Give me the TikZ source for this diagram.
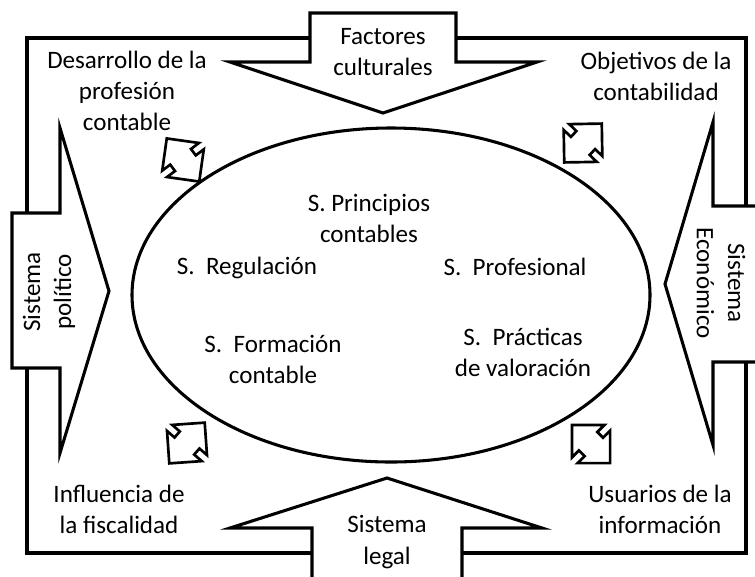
\documentclass[tikz,border=0pt]{standalone}
\usepackage{fontspec}
\setmainfont{Carlito}
\usepackage{tikz}

\begin{document}
\begin{tikzpicture}[x=0.75pt, y=-0.75pt,
		trazo/.style={line width=2.3pt},
		flecha/.style={trazo, fill=white, line join=miter},
		texto/.style={align=center, inner sep=0pt, font=\fontsize{18.8}{23.3}\selectfont}]
			\useasboundingbox (0,0) rectangle (755,576);
			\clip (0,0) rectangle (755,576);

			% marco y elipse
			\draw[trazo] (27,38) rectangle (746,553);
			\draw[trazo] (391,295) ellipse [x radius=259, y radius=167];

			% flechas grandes
			\draw[flecha] (310,13) -- (456,13) -- (456,62) -- (537,62) -- (383,113) -- (230,62) -- (310,62) -- cycle;
			\draw[flecha] (12,213) -- (60,213) -- (60,128) -- (109,291) -- (60,453) -- (60,368) -- (12,368) -- cycle;
			\draw[flecha] (770,206) -- (713,206) -- (713,122) -- (665,284) -- (713,445) -- (713,362) -- (770,362) -- cycle;
			\draw[flecha] (312,600) -- (312,528) -- (230,528) -- (387,478) -- (542,528) -- (462,528) -- (462,600) -- cycle;

			% flechas dobles
			\foreach \cx/\cy/\ang in {183/160/-53, 583/143/46, 187/443/49, 591/444/-45}
			\draw[trazo, line width=2pt, line join=miter, shift={(\cx,\cy)}, rotate=\ang]
			(27,0) -- (4,23) -- (4,13) -- (-4,13) -- (-4,23) -- (-27,0)
			-- (-4,-23) -- (-4,-13) -- (4,-13) -- (4,-23) -- cycle;

			% textos
			\node[texto] (desarrollo) at (127,91) {Desarrollo de la\\profesión\\contable};
			\node[texto] (factores) at (383,52) {Factores\\culturales};
			\node[texto] (objetivos) at (656,76) {Objetivos de la\\contabilidad};
			\node[texto, rotate=90] (politico) at (49,292) {Sistema\\político};
			\node[texto, rotate=-90] (economico) at (721,283) {Sistema\\Económico};
			\node[texto] (fiscalidad) at (119,509) {Influencia de\\la fiscalidad};
			\node[texto] (usuarios) at (660,509) {Usuarios de la\\información};
			\node[texto] (legal) at (387,542) {Sistema\\legal};

			\node[texto] (principios) at (369,218) {S. Principios\\contables};
			\node[texto] (regulacion) at (247,268) {S.\ \ Regulación};
			\node[texto] (profesional) at (515,267) {S.\ \ Profesional};
			\node[texto] (formacion) at (273,359) {S.\ \ Formación\\contable};
			\node[texto] (practicas) at (523,352) {S.\ \ Prácticas\\de valoración};

		\end{tikzpicture}
\end{document}
